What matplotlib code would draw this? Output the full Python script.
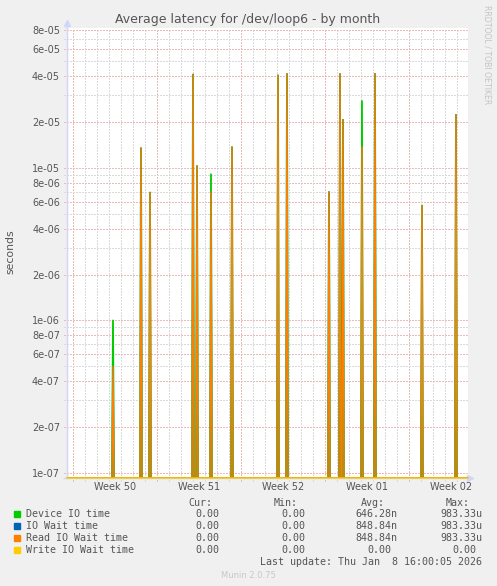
import numpy as np
import matplotlib
matplotlib.use("Agg")
import matplotlib.pyplot as plt
from matplotlib.ticker import NullLocator

# ---------------- colours (munin style) ----------------
C = {
    "back": "#f0f0f0",
    "canvas": "#ffffff",
    "font": "#555555",
    "axis": "#cfd6f8",
    "grid": "#dadada",
    "mgrid": "#edbaba",
    "dev": "#00cc00",
    "wait": "#0066b3",
    "read": "#ff8000",
    "write": "#ffcc00",
}

# ---------------- data ----------------
# days since Monday of week 50; one sample every 2 hours
T_START = -0.5
T_END = 32.92
SAMPLES_PER_DAY = 12

spike_days = [3.33, 5.67, 6.42, 10.0, 10.33, 11.5, 13.25, 17.08,
              17.83, 21.33, 22.25, 22.5, 24.08, 25.17, 29.08, 31.92]
read_wait = [5.0e-7, 1.35e-5, 6.9e-6, 4.1e-5, 1.03e-5, 7.0e-6, 1.37e-5, 4.05e-5,
             4.14e-5, 6.96e-6, 4.14e-5, 2.07e-5, 1.38e-5, 4.14e-5, 5.66e-6, 2.23e-5]
io_wait = read_wait
device_io = [1.0e-6, 1.35e-5, 6.9e-6, 4.1e-5, 1.03e-5, 9.1e-6, 1.37e-5, 4.05e-5,
             4.14e-5, 6.96e-6, 4.14e-5, 2.07e-5, 2.75e-5, 4.14e-5, 5.66e-6, 2.23e-5]

week_major = [0, 7, 14, 21, 28]
week_label_pos = [3.5, 10.5, 17.5, 24.5, 31.5]
week_labels = ["Week 50", "Week 51", "Week 52", "Week 01", "Week 02"]

y_major = [1e-7, 2e-7, 4e-7, 6e-7, 8e-7, 1e-6, 2e-6, 4e-6, 6e-6, 8e-6,
           1e-5, 2e-5, 4e-5, 6e-5, 8e-5]
y_major_labels = ["1e-07", "2e-07", "4e-07", "6e-07", "8e-07", "1e-06", "2e-06",
                  "4e-06", "6e-06", "8e-06", "1e-05", "2e-05", "4e-05", "6e-05", "8e-05"]
y_minor = [3e-7, 5e-7, 7e-7, 9e-7, 3e-6, 5e-6, 7e-6, 9e-6, 3e-5, 5e-5, 7e-5]

YMIN, YMAX = 9.27e-8, 8.28e-5

legend_names = ["Device IO time", "IO Wait time", "Read IO Wait time", "Write IO Wait time"]
legend_cur = ["0.00", "0.00", "0.00", "0.00"]
legend_min = ["0.00", "0.00", "0.00", "0.00"]
legend_avg = ["646.28n", "848.84n", "848.84n", "0.00"]
legend_max = ["983.33u", "983.33u", "983.33u", "0.00"]

# ---------------- build series ----------------
t = np.arange(T_START, T_END, 1.0 / SAMPLES_PER_DAY)


def series(days, vals):
    s = np.zeros_like(t)
    for d, v in zip(days, vals):
        s[int(round((d - T_START) * SAMPLES_PER_DAY))] = v
    # zero is drawn at the bottom of the log canvas, like rrdtool
    return np.where(s > 0, s, YMIN)


dev_s = series(spike_days, device_io)
wait_s = series(spike_days, io_wait)
read_s = series(spike_days, read_wait)
write_s = np.full_like(t, YMIN)

# ---------------- figure ----------------
W, H = 497, 586
fig = plt.figure(figsize=(W / 100, H / 100), dpi=100, facecolor=C["back"])
L, R, TOP, BOT = 67, 468, 28, 478
ax = fig.add_axes([L / W, 1 - BOT / H, (R - L) / W, (BOT - TOP) / H])
ax.set_facecolor(C["canvas"])
ax.set_yscale("log")
ax.set_xlim(T_START, T_END)
ax.set_ylim(YMIN, YMAX)

for sp in ax.spines.values():
    sp.set_visible(False)

# grid (drawn by hand so it pokes out past the axes like rrdtool ticks)
dots = (0, (1.4, 1.4))
xt = ax.get_xaxis_transform()
yt = ax.get_yaxis_transform()
minor_days = [d for d in range(0, 33) if d not in week_major]
grid_kw = dict(lw=0.72, linestyles=[dots], clip_on=False, zorder=1, antialiased=False)
ax.vlines(minor_days, -0.007, 1, transform=xt, colors=C["grid"], **grid_kw)
ax.vlines(week_major, -0.007, 1, transform=xt, colors=C["mgrid"], **grid_kw)
ax.hlines(y_minor, -0.007, 1, transform=yt, colors=C["grid"], **grid_kw)
ax.hlines(y_major, -0.007, 1, transform=yt, colors=C["mgrid"], **grid_kw)

# series
ax.plot(t, dev_s, color=C["dev"], lw=1.3, zorder=3)
ax.plot(t, wait_s, color=C["wait"], lw=1.3, alpha=0.35, zorder=4)
ax.plot(t, read_s, color=C["read"], lw=1.0, zorder=5)
ax.plot(t, write_s, color=C["write"], lw=1.4, alpha=0.7, zorder=6, clip_on=False)

# axes lines + arrows
ax.plot([-0.008, 1.0], [0, 0], transform=ax.transAxes, color=C["axis"], lw=1,
        clip_on=False, zorder=2)
ax.plot([0, 0], [0, 1.012], transform=ax.transAxes, color=C["axis"], lw=1,
        clip_on=False, zorder=2)
ax.plot([1.006], [0], transform=ax.transAxes, marker=">", ms=4, color=C["axis"],
        clip_on=False, zorder=2)
ax.plot([0], [1.012], transform=ax.transAxes, marker="^", ms=4, color=C["axis"],
        clip_on=False, zorder=2)

# ticks
ax.set_yticks(y_major, y_major_labels)
ax.yaxis.set_minor_locator(NullLocator())
ax.set_xticks(week_label_pos, week_labels)
ax.xaxis.set_minor_locator(NullLocator())
ax.tick_params(axis="y", length=0, pad=5, labelsize=7, labelcolor=C["font"])
ax.tick_params(axis="x", length=0, pad=3, labelsize=7, labelcolor=C["font"])

# titles
fig.text(247.5 / W, 1 - 19 / H, "Average latency for /dev/loop6 - by month",
         ha="center", va="center", fontsize=9, color=C["font"])
fig.text(10.5 / W, 1 - 252 / H, "seconds", rotation=90, ha="center", va="center",
         fontsize=7.8, color=C["font"])
fig.text(487 / W, 1 - 5 / H, "RRDTOOL / TOBI OETIKER", rotation=270,
         ha="center", va="top", fontsize=5.6, color="#c4c4c4")

# legend
mono = "DejaVu Sans Mono"
fs = 7.2
hy = 503
for txt, xr in zip(["Cur:", "Min:", "Avg:", "Max:"], [212.5, 298, 385, 470]):
    fig.text(xr / W, 1 - hy / H, txt, ha="right", va="center", family=mono,
             fontsize=fs, color=C["font"])

colors = [C["dev"], C["wait"], C["read"], C["write"]]
for i, name in enumerate(legend_names):
    y = 514.3 + 12 * i
    fig.patches.append(plt.Rectangle((14 / W, 1 - (y + 3) / H), 6 / W, 6 / H,
                                     transform=fig.transFigure, color=colors[i]))
    fig.text(26 / W, 1 - y / H, name, ha="left", va="center", family=mono,
             fontsize=fs, color=C["font"])
    avg_x = 397.3 if legend_avg[i].endswith(("n", "u")) else 391
    max_x = 482 if legend_max[i].endswith(("n", "u")) else 476.5
    for val, xr in zip([legend_cur[i], legend_min[i], legend_avg[i], legend_max[i]],
                       [219, 305, avg_x, max_x]):
        fig.text(xr / W, 1 - y / H, val, ha="right", va="center", family=mono,
                 fontsize=fs, color=C["font"])

fig.text(482.5 / W, 1 - 562.3 / H, "Last update: Thu Jan  8 16:00:05 2026",
         ha="right", va="center", family=mono, fontsize=fs, color=C["font"])
fig.text(248 / W, 1 - 575 / H, "Munin 2.0.75", ha="center", va="center",
         fontsize=6, color="#c8c8c8")

fig.savefig("out.png", dpi=100, facecolor=C["back"])
